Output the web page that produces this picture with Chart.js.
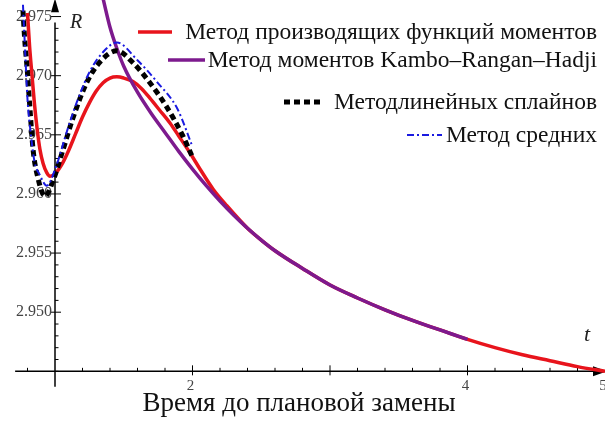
<!DOCTYPE html>
<html>
<head>
<meta charset="utf-8">
<script src="https://cdn.jsdelivr.net/npm/chart.js@4.4.1/dist/chart.umd.min.js"></script>
<style>
html,body{margin:0;padding:0;background:#fff;}
#wrap{width:605px;height:421px;position:relative;}
</style>
</head>
<body>
<div id="wrap"><canvas id="c" width="605" height="421"></canvas></div>
<script>
// ---- data ----
const seriesNames = [
  "Метод производящих функций моментов",
  "Метод моментов Kambo–Rangan–Hadji",
  "Методлинейных сплайнов",
  "Метод средних"
];
const redT = [0.80, 0.815, 0.833, 0.85, 0.87, 0.89, 0.913, 0.94, 0.964, 1.0, 1.05, 1.1, 1.15, 1.2, 1.25, 1.3, 1.35, 1.4, 1.45, 1.5, 1.567, 1.63, 1.69, 1.76, 1.836, 1.9, 1.98, 2.06, 2.15, 2.25, 2.4, 2.5, 2.6, 2.8, 3.0, 3.2, 3.4, 3.6, 3.8, 4.0, 4.2, 4.4, 4.6, 4.8, 5.0];
const redR = [2.9753, 2.9725, 2.9700, 2.9677, 2.9655, 2.9638, 2.9626, 2.9618, 2.9615, 2.9617, 2.9625, 2.9637, 2.9651, 2.9665, 2.9677, 2.9687, 2.9694, 2.9698, 2.9699, 2.9698, 2.9695, 2.9689, 2.9681, 2.9671, 2.9660, 2.9649, 2.9635, 2.9620, 2.9604, 2.9590, 2.9571, 2.9561, 2.9552, 2.9537, 2.9523, 2.9512, 2.9502, 2.9493, 2.9485, 2.9477, 2.9470, 2.9464, 2.9459, 2.9454, 2.9450];
const purpleT = [1.35, 1.40, 1.45, 1.5, 1.6, 1.7, 1.8, 1.9, 2.0, 2.1, 2.2, 2.3, 2.4, 2.5, 2.6, 2.8, 3.0, 3.2, 3.4, 3.6, 3.8, 4.0];
const purpleR = [2.9765, 2.9741, 2.9723, 2.9708, 2.9686, 2.9668, 2.9652, 2.9636, 2.9621, 2.9607, 2.9594, 2.9582, 2.9571, 2.9561, 2.9552, 2.9537, 2.9523, 2.9512, 2.9502, 2.9493, 2.9485, 2.9477];
const blackT = [0.767, 0.78, 0.796, 0.818, 0.84, 0.877, 0.927, 0.985, 1.06, 1.13, 1.23, 1.33, 1.45, 1.567, 1.69, 1.81, 1.93, 2.0];
const blackR = [2.9755, 2.9730, 2.9708, 2.9672, 2.9638, 2.9613, 2.9598, 2.9611, 2.9638, 2.9664, 2.9694, 2.9712, 2.9721, 2.9711, 2.9694, 2.9674, 2.9649, 2.9631];
const blueT = [0.767, 0.78, 0.80, 0.82, 0.85, 0.89, 0.94, 1.01, 1.087, 1.16, 1.255, 1.35, 1.45, 1.6, 1.74, 1.89, 2.0];
const blueR = [2.9760, 2.9728, 2.9680, 2.9655, 2.9628, 2.9616, 2.9607, 2.9624, 2.9653, 2.9678, 2.9704, 2.9720, 2.9728, 2.9713, 2.9695, 2.9672, 2.9640];
const xTickLabels = [2, 4, 5];
const yTickLabels = ["2.950", "2.955", "2.960", "2.965", "2.970", "2.975"];
const xAxisTitle = "Время до плановой замены";

const pts = (T, R) => T.map((t, i) => ({x: t, y: R[i]}));

const axesPlugin = {
  id: 'axes',
  beforeDatasetsDraw(chart) {
    const {ctx, scales: {x, y}} = chart;
    const x0 = x.getPixelForValue(1);
    const y0 = y.getPixelForValue(2.945);
    ctx.save();
    ctx.strokeStyle = '#000';
    ctx.fillStyle = '#000';
    ctx.lineWidth = 1.5;
    // x axis
    ctx.beginPath();
    ctx.moveTo(x.getPixelForValue(0.71), y0);
    ctx.lineTo(x.getPixelForValue(4.96), y0);
    ctx.stroke();
    const xe = x.getPixelForValue(5.0);
    ctx.beginPath();
    ctx.moveTo(xe + 2, y0);
    ctx.lineTo(xe - 12, y0 - 5);
    ctx.lineTo(xe - 12, y0 + 5);
    ctx.closePath();
    ctx.fill();
    // y axis
    ctx.beginPath();
    ctx.moveTo(x0, y.getPixelForValue(2.9437));
    ctx.lineTo(x0, y.getPixelForValue(2.9745));
    ctx.stroke();
    const yt = y.getPixelForValue(2.9762);
    ctx.beginPath();
    ctx.moveTo(x0, yt - 4);
    ctx.lineTo(x0 - 4, yt + 10);
    ctx.lineTo(x0 + 4, yt + 10);
    ctx.closePath();
    ctx.fill();
    // x ticks
    ctx.lineWidth = 1;
    for (let k = 4; k <= 24; k++) {
      const t = k / 5;
      if (Math.abs(t - 1) < 1e-6) continue;
      const px = x.getPixelForValue(t);
      const major = Math.abs(t - Math.round(t)) < 1e-6;
      ctx.beginPath();
      ctx.moveTo(px, y0 + (major ? 4 : 0));
      ctx.lineTo(px, y0 - (major ? 6 : 3.5));
      ctx.stroke();
    }
    // y ticks
    for (let k = 0; k <= 30; k++) {
      const v = 2.945 + k * 0.001;
      if (v > 2.9762) break;
      const py = y.getPixelForValue(v);
      const major = k % 5 === 0 && k > 0;
      ctx.beginPath();
      ctx.moveTo(x0 - (major ? 4 : 0), py);
      ctx.lineTo(x0 + (major ? 6 : 3.5), py);
      ctx.stroke();
    }
    // tick labels
    ctx.fillStyle = '#444';
    ctx.font = '15px "Liberation Serif", serif';
    ctx.textAlign = 'center';
    ctx.textBaseline = 'middle';
    xTickLabels.forEach(v => {
      ctx.fillText(String(v), x.getPixelForValue(v) - 2, y0 + 15);
    });
    ctx.font = '16px "Liberation Serif", serif';
    ctx.textAlign = 'right';
    yTickLabels.forEach(s => {
      ctx.fillText(s, x0 - 3, y.getPixelForValue(parseFloat(s)));
    });
    // axis letters
    ctx.fillStyle = '#222';
    ctx.font = 'italic 20px "Liberation Serif", serif';
    ctx.textAlign = 'left';
    ctx.fillText('R', x0 + 15, y.getPixelForValue(2.9745));
    ctx.font = 'italic 22px "Liberation Serif", serif';
    ctx.fillText('t', 584, y0 - 36);
    // axis title
    ctx.fillStyle = '#111';
    ctx.font = '27px "Liberation Serif", serif';
    ctx.textAlign = 'center';
    ctx.fillText(xAxisTitle, 299, 404);
    ctx.restore();
  },
  afterDatasetsDraw(chart) {
    const {ctx} = chart;
    const ds = chart.data.datasets;
    const rows = [
      {i: 0, y: 32, x1: 138, x2: 172},
      {i: 1, y: 60, x1: 168, x2: 205},
      {i: 2, y: 102, x1: 284, x2: 321},
      {i: 3, y: 135, x1: 407, x2: 442}
    ];
    ctx.save();
    ctx.font = '23.5px "Liberation Serif", serif';
    ctx.textBaseline = 'middle';
    ctx.textAlign = 'right';
    rows.forEach(r => {
      const d = ds[r.i];
      ctx.strokeStyle = d.borderColor;
      ctx.lineWidth = d.borderWidth;
      ctx.setLineDash(d.borderDash || []);
      ctx.beginPath();
      ctx.moveTo(r.x1, r.y);
      ctx.lineTo(r.x2, r.y);
      ctx.stroke();
      ctx.setLineDash([]);
      ctx.fillStyle = '#111';
      ctx.fillText(d.label, 597, r.y + 1);
    });
    ctx.restore();
  }
};

new Chart(document.getElementById('c'), {
  type: 'line',
  data: {
    datasets: [
      {label: seriesNames[0], data: pts(redT, redR), borderColor: '#e8141c', borderWidth: 3.5, order: 4},
      {label: seriesNames[1], data: pts(purpleT, purpleR), borderColor: '#7d1a8e', borderWidth: 3.5, order: 3},
      {label: seriesNames[2], data: pts(blackT, blackR), borderColor: '#000000', borderWidth: 5, borderDash: [6, 4], order: 2},
      {label: seriesNames[3], data: pts(blueT, blueR), borderColor: '#1a1ae0', borderWidth: 2, borderDash: [7, 3, 2, 3], order: 1}
    ]
  },
  options: {
    responsive: false,
    devicePixelRatio: 1,
    animation: false,
    layout: {padding: 0},
    elements: {point: {radius: 0}, line: {cubicInterpolationMode: 'monotone', fill: false}},
    plugins: {legend: {display: false}, tooltip: {enabled: false}, title: {display: false}},
    scales: {
      x: {type: 'linear', min: 0.6, max: 5.0, display: false},
      y: {type: 'linear', min: 2.9408, max: 2.9764, display: false}
    }
  },
  plugins: [axesPlugin]
});
</script>
</body>
</html>
